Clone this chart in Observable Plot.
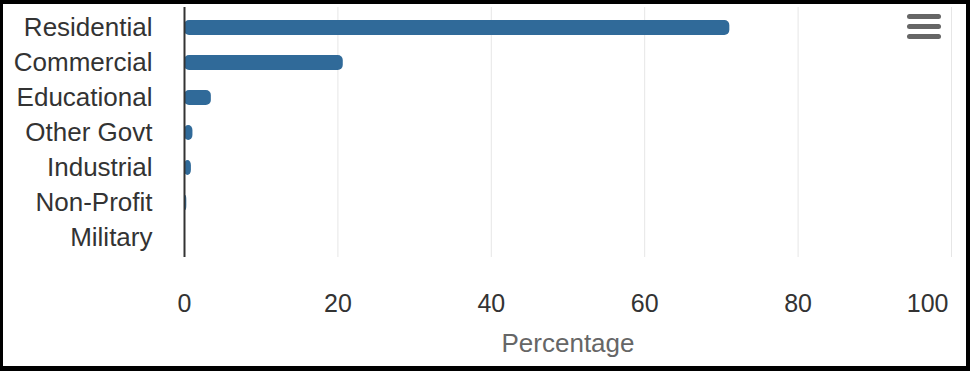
<!DOCTYPE html>
<html>
<head>
<meta charset="utf-8">
<script src="https://cdn.jsdelivr.net/npm/d3@7"></script>
<script src="https://cdn.jsdelivr.net/npm/@observablehq/plot@0.6"></script>
<style>
  html, body { margin: 0; padding: 0; background: #fff; }
  #wrap { position: relative; width: 970px; height: 371px; overflow: hidden; font-family: "Liberation Sans", Arial, sans-serif; }
  #chart { position: absolute; left: 0; top: 0; }
  #frame { position: absolute; left: 0; top: 0; width: 970px; height: 371px; box-sizing: border-box;
           border-style: solid; border-color: #000; border-width: 4px 4px 5px 3px; pointer-events: none; }
  #menu { position: absolute; left: 907px; top: 14px; width: 34px; }
  #menu div { height: 5px; border-radius: 3px; background: #666; margin-bottom: 5px; }
</style>
</head>
<body>
<div id="wrap">
  <div id="chart"></div>
  <div id="menu"><div></div><div></div><div></div></div>
  <div id="frame"></div>
</div>
<script>
const categories = ["Residential", "Commercial", "Educational", "Other Govt", "Industrial", "Non-Profit", "Military"];
const percentages = [71.1, 20.7, 3.5, 1.1, 0.9, 0.3, 0.05];
const xTicks = [0, 20, 40, 60, 80, 100];
const xLabel = "Percentage";

const data = categories.map((c, i) => ({category: c, value: percentages[i]}));
const lastTick = xTicks[xTicks.length - 1];
const innerTicks = xTicks.slice(0, -1);

const chart = Plot.plot({
  width: 970,
  height: 371,
  marginLeft: 184,
  marginRight: 19,
  marginTop: 7,
  marginBottom: 114,
  style: {fontFamily: "'Liberation Sans', Arial, sans-serif", background: "transparent", color: "#333"},
  x: {domain: [0, 100], ticks: xTicks},
  y: {domain: categories, padding: 0},
  marks: [
    Plot.gridX(xTicks, {stroke: "#e6e6e6", strokeOpacity: 1, strokeWidth: 1}),
    Plot.barX(data, {x: "value", y: "category", fill: "#306a99", rx: 5, insetTop: 10, insetBottom: 10}),
    Plot.ruleX([0], {stroke: "#333", strokeWidth: 2}),
    Plot.axisY({tickSize: 0, tickPadding: 32, fontSize: 26, label: null, color: "#333"}),
    Plot.axisX(innerTicks, {tickSize: 0, tickPadding: 37, fontSize: 25, label: null, color: "#333"}),
    Plot.axisX([lastTick], {tickSize: 0, tickPadding: 37, fontSize: 25, label: null, color: "#333", textAnchor: "end", dx: -3}),
    Plot.text([xLabel], {frameAnchor: "bottom", dy: 86, fontSize: 26, fill: "#666", lineAnchor: "middle"})
  ]
});
document.getElementById("chart").appendChild(chart);
</script>
</body>
</html>
